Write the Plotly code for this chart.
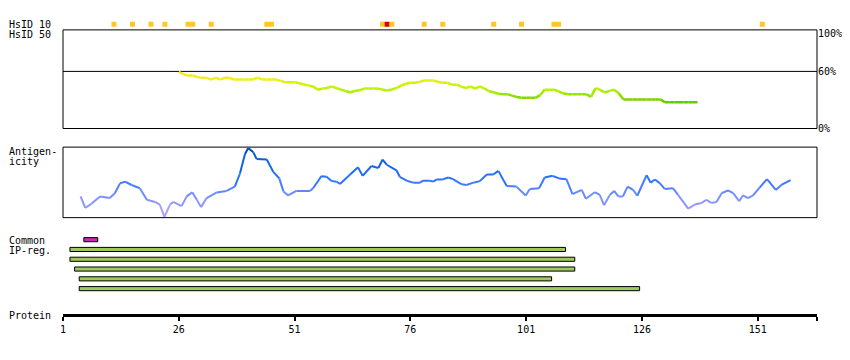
import plotly.graph_objects as go

# ---------------- data ----------------
protein_length = 163
axis_ticks = [1, 26, 51, 76, 101, 126, 151]

# HsID 10 hits (residue, level)
hsid10_pos = [12, 16, 20, 23, 28, 29, 33, 45, 46, 70, 71, 72, 79, 83, 94, 100, 107, 108, 152]
hsid10_level = ["hit"] * 10 + ["strong"] + ["hit"] * 8

# HsID 50 identity (%) per residue, residues 26..138
hsid_res = list(range(26, 139))
hsid_pct = [59.5, 57, 55.6, 55.6, 54, 53.2, 53.2, 51.4, 53.5, 51.4,
            53.5, 53, 51.4, 51.4, 51.4, 51.4, 51.4, 53.5, 51.4, 51.4,
            51.4, 51.4, 50, 48.7, 48.7, 48.7, 47.5, 46.3, 45.3, 44.2,
            40.8, 41.9, 42.5, 44.2, 42.5, 40.8, 39.5, 37.8, 39.5, 40.1,
            41.9, 41.9, 41.9, 41.9, 41.0, 39.8, 41, 42.5, 45, 47,
            48, 48, 49, 50.4, 50.4, 50.4, 49, 48, 48, 46,
            46, 44, 42.5, 44.2, 42, 44.2, 42, 39.1, 38, 36.5,
            36, 36, 34.5, 33, 32.2, 32.2, 32.2, 32.2, 35, 40.8,
            40.8, 40.8, 39, 37, 36, 36, 36, 36, 36, 33.2,
            42.5, 40.5, 37.8, 39.5, 40.8, 37, 30.6, 30.6, 30.6, 30.6,
            30.6, 30.6, 30.6, 30.6, 30.6, 27.5, 27.5, 27.5, 27.5, 27.5,
            27.5, 27.5, 27.5]
hsid_ref = 60

# Antigenicity profile (residue position, relative score)
anti_pos = [4.8, 5.8, 7.2, 9.0, 11.1, 12.2, 13.3, 14.4, 15.8, 17.6,
            19.1, 20.9, 21.9, 22.9, 24.1, 24.8, 26.6, 27.7, 28.9, 29.9,
            30.8, 32.0, 34.2, 36.3, 38.1, 39.2, 40.3, 41.0, 42.1, 42.8,
            45.0, 46.4, 47.7, 48.6, 49.6, 51.4, 54.3, 55.0, 56.8, 57.9,
            59.0, 60.1, 60.8, 63.0, 64.7, 65.7, 67.6, 69.1, 70.0, 70.9,
            73.0, 73.7, 75.2, 76.6, 78.1, 78.7, 80.2, 80.9, 81.7, 83.0,
            84.2, 85.2, 87.1, 88.1, 89.6, 91.0, 92.5, 93.9, 95.0, 96.8,
            98.9, 100.9, 101.8, 103.8, 105.0, 106.7, 108.1, 109.7, 111.0, 113.0,
            113.9, 115.8, 116.9, 117.8, 119.1, 120.0, 120.9, 121.9, 122.9, 124.1,
            125.0, 127.0, 127.9, 128.8, 129.9, 130.9, 132.7, 133.8, 136.0, 137.4,
            138.9, 139.9, 141.0, 142.1, 143.2, 144.6, 145.7, 147.0, 147.8, 148.9,
            150.0, 151.4, 153.0, 154.9, 156.1, 158.1]
anti_val = [0.301, 0.139, 0.199, 0.301, 0.278, 0.347, 0.486, 0.510, 0.463, 0.417,
            0.254, 0.222, 0.185, 0.010, 0.185, 0.222, 0.163, 0.301, 0.361, 0.254,
            0.149, 0.278, 0.357, 0.379, 0.440, 0.625, 0.903, 0.986, 0.926, 0.833,
            0.824, 0.649, 0.556, 0.371, 0.315, 0.379, 0.379, 0.417, 0.588, 0.579,
            0.518, 0.510, 0.476, 0.611, 0.713, 0.593, 0.732, 0.704, 0.824, 0.750,
            0.671, 0.579, 0.524, 0.496, 0.496, 0.524, 0.524, 0.510, 0.542, 0.542,
            0.569, 0.546, 0.472, 0.463, 0.496, 0.518, 0.611, 0.611, 0.663, 0.449,
            0.440, 0.315, 0.407, 0.417, 0.569, 0.593, 0.556, 0.546, 0.333, 0.393,
            0.268, 0.361, 0.324, 0.176, 0.324, 0.379, 0.301, 0.301, 0.440, 0.393,
            0.310, 0.601, 0.496, 0.542, 0.486, 0.407, 0.417, 0.324, 0.129, 0.185,
            0.208, 0.254, 0.208, 0.222, 0.347, 0.385, 0.347, 0.232, 0.315, 0.278,
            0.315, 0.426, 0.546, 0.393, 0.463, 0.532]

# Interaction-partner regions
ip_common_start, ip_common_end = 6, 8
ip_starts = [3, 3, 4, 5, 5]
ip_ends = [109, 111, 111, 106, 125]

# ---------------- styling helpers ----------------
FONT = "DejaVu Sans Mono"
OFF = 8          # page body margin of the written html
W, H = 842, 340  # figure size (page is 850 wide)


def hex_to_rgb(h):
    h = h.lstrip("#")
    return [int(h[i:i + 2], 16) for i in (0, 2, 4)]


def scale_color(v, stops):
    if v <= stops[0][0]:
        return stops[0][1]
    if v >= stops[-1][0]:
        return stops[-1][1]
    for (a, ca), (b, cb) in zip(stops[:-1], stops[1:]):
        if a <= v <= b:
            t = (v - a) / (b - a)
            r1, r2 = hex_to_rgb(ca), hex_to_rgb(cb)
            c = [round(r1[k] + (r2[k] - r1[k]) * t) for k in range(3)]
            return "rgb(%d,%d,%d)" % tuple(c)
    return stops[-1][1]


hsid_stops = [(27, "#62c800"), (31, "#7cd400"), (37, "#9cea00"), (42, "#bef400"),
              (48, "#d6f200"), (52, "#eeee20"), (60, "#fce428")]
anti_stops = [(0.0, "#b8a8ff"), (0.15, "#9c9cff"), (0.3, "#7890ff"), (0.42, "#5282ff"),
              (0.55, "#2a72ff"), (0.7, "#1468f0"), (0.85, "#0a5cd8"), (1.0, "#0048a8")]


def py(p):
    """page pixel row -> paper fraction"""
    return 1 - (p - OFF) / H


fig = go.Figure()

# HsID 10 squares
fig.add_trace(go.Scatter(
    x=hsid10_pos, y=[0.5] * len(hsid10_pos), mode="markers", yaxis="y",
    marker=dict(symbol="square", size=5,
                color=["#e00000" if l == "strong" else "#ffc820" for l in hsid10_level],
                line=dict(width=0)),
    showlegend=False, hoverinfo="skip"))

# HsID 50 line, coloured by value
for i in range(len(hsid_res) - 1):
    v = (hsid_pct[i] + hsid_pct[i + 1]) / 2
    fig.add_trace(go.Scatter(
        x=hsid_res[i:i + 2], y=hsid_pct[i:i + 2], mode="lines", yaxis="y2",
        line=dict(color=scale_color(v, hsid_stops), width=2.5),
        showlegend=False, hoverinfo="skip"))

# Antigenicity line, coloured by value
for i in range(len(anti_pos) - 1):
    v = (anti_val[i] + anti_val[i + 1]) / 2
    fig.add_trace(go.Scatter(
        x=anti_pos[i:i + 2], y=anti_val[i:i + 2], mode="lines", yaxis="y3",
        line=dict(color=scale_color(v, anti_stops), width=2),
        showlegend=False, hoverinfo="skip"))

# IP regions
fig.add_trace(go.Bar(
    orientation="h", y=[0], base=[ip_common_start - 0.5],
    x=[ip_common_end - ip_common_start + 1], width=0.42, yaxis="y4",
    marker=dict(color="#c828b4", line=dict(color="black", width=1)),
    showlegend=False, hoverinfo="skip"))
fig.add_trace(go.Bar(
    orientation="h", y=list(range(1, len(ip_starts) + 1)),
    base=[s - 0.5 for s in ip_starts],
    x=[e - s + 1 for s, e in zip(ip_starts, ip_ends)], width=0.42, yaxis="y4",
    marker=dict(color="#9fc85e", line=dict(color="black", width=1)),
    showlegend=False, hoverinfo="skip"))

shapes = [
    dict(type="rect", xref="paper", x0=0, x1=1, yref="y2 domain", y0=0, y1=1,
         line=dict(color="black", width=1), fillcolor="rgba(0,0,0,0)", layer="below"),
    dict(type="line", xref="paper", x0=0, x1=1, yref="y2", y0=hsid_ref, y1=hsid_ref,
         line=dict(color="black", width=1), layer="below"),
    dict(type="rect", xref="paper", x0=0, x1=1, yref="y3 domain", y0=0, y1=1,
         line=dict(color="black", width=1), fillcolor="rgba(0,0,0,0)", layer="below"),
]

left_labels = [("HsID 10", 22.7), ("HsID 50", 33.0), ("Antigen-", 152.7), ("icity", 163.0),
               ("Common", 243.3), ("IP-reg.", 253.5), ("Protein", 319.5)]
annotations = [dict(text=t, xref="paper", yref="paper", x=(OFF - 63) / 754.0, y=py(yy),
                    xanchor="left", yanchor="middle", showarrow=False, borderpad=0,
                    font=dict(family=FONT, size=10, color="black"))
               for t, yy in left_labels]

fig.update_layout(
    width=W, height=H,
    margin=dict(l=63 - OFF, r=33, t=0, b=0),
    paper_bgcolor="white", plot_bgcolor="white",
    barmode="overlay",
    shapes=shapes, annotations=annotations,
    xaxis=dict(domain=[0, 1], range=[1, 163.8], anchor="free", position=py(319.5),
               showline=True, linewidth=3, linecolor="black",
               ticks="outside", ticklen=4, tickwidth=2, tickcolor="black",
               tickvals=axis_ticks + [163.75],
               ticktext=[str(t) for t in axis_ticks] + [""],
               tickfont=dict(family=FONT, size=10, color="black"),
               showgrid=False, zeroline=False),
    yaxis=dict(domain=[py(27.5), py(17.5)], range=[0, 1], visible=False, anchor="x"),
    yaxis2=dict(domain=[py(129), py(28.3)], range=[0, 103.6], side="right", anchor="x",
                tickvals=[0, 60, 100], ticktext=["0%", "60%", "100%"], ticks="",
                tickfont=dict(family=FONT, size=10, color="black"),
                showline=False, showgrid=False, zeroline=False),
    yaxis3=dict(domain=[py(220), py(148)], range=[0, 1], visible=False, anchor="x"),
    yaxis4=dict(domain=[py(297.5), py(237.5)], range=[5.5, -0.5], visible=False, anchor="x"),
)

fig.write_html("out.html")
